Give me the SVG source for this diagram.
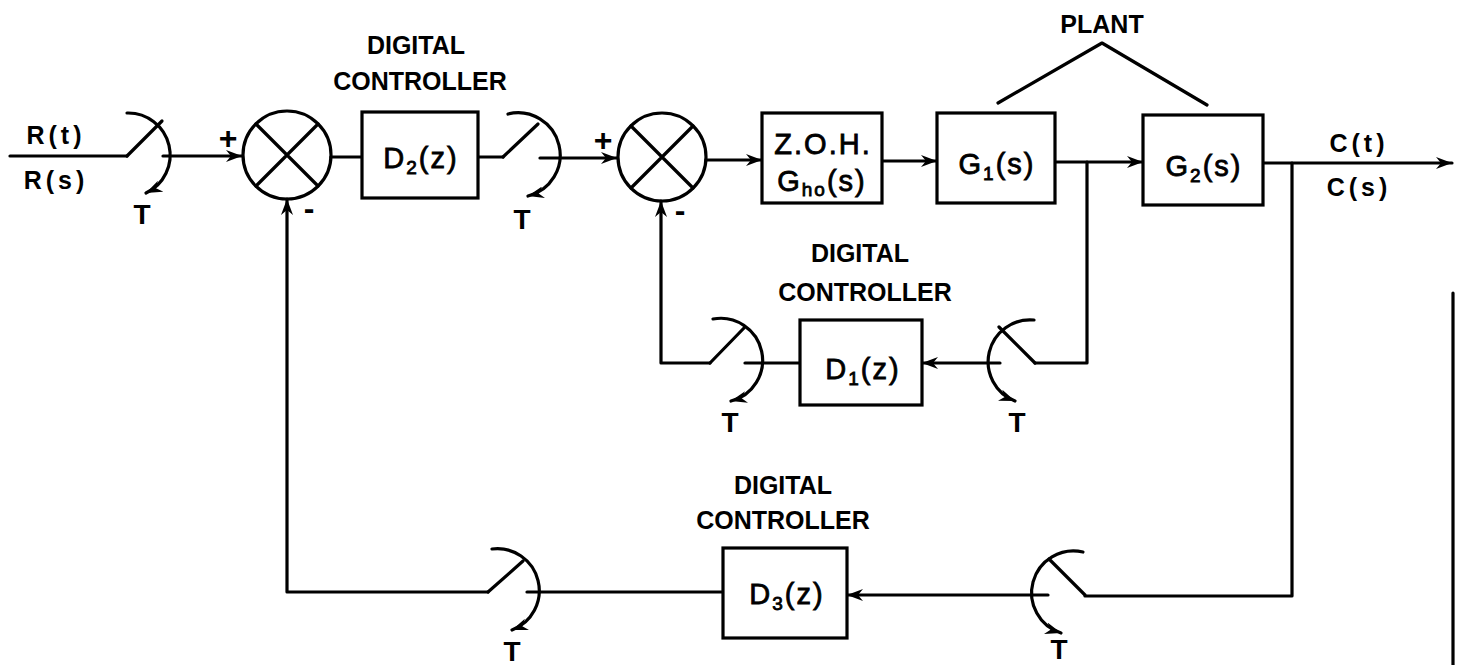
<svg xmlns="http://www.w3.org/2000/svg" width="1457" height="665" viewBox="0 0 1457 665">
<style>
.w{fill:none;stroke:#000;stroke-width:3.2;stroke-linecap:round;stroke-linejoin:round}
.bx{fill:#fff;stroke:#000;stroke-width:3.2}
.lb{font-family:"Liberation Sans",Arial,sans-serif;font-weight:bold;font-size:25px;fill:#000;stroke:none;text-anchor:middle}
.t{font-size:28px}
.pm{font-size:32px}
.bt{font-family:"Liberation Sans",Arial,sans-serif;font-size:29px;fill:#000;stroke:#000;stroke-width:0.8;text-anchor:middle;letter-spacing:2px}
.sub{font-size:19px}
</style>
<defs>
<marker id="ah" markerUnits="userSpaceOnUse" markerWidth="18" markerHeight="12" refX="16" refY="6" orient="auto">
<path d="M0,0 L16,6 L0,12 L5,6 z" fill="#000"/>
</marker>
</defs>
<rect width="1457" height="665" fill="#fff"/>

<g id="connectors" class="w">
<path d="M10,156 H127"/>
<path d="M163,156 H242" marker-end="url(#ah)"/>
<path d="M331,157 H362"/>
<path d="M478,157 H503"/>
<path d="M540,158 H617" marker-end="url(#ah)"/>
<path d="M706,160 H762" marker-end="url(#ah)"/>
<path d="M882,161 H937" marker-end="url(#ah)"/>
<path d="M1055,162 H1143" marker-end="url(#ah)"/>
<path d="M1263,163 H1452" marker-end="url(#ah)"/>
<path d="M1087,162 V363 H1035"/>
<path d="M1000,363 H922" marker-end="url(#ah)"/>
<path d="M800,363 H745"/>
<path d="M710,363 H661 V201" marker-end="url(#ah)"/>
<path d="M1292,163 V596 H1085"/>
<path d="M1048,595 H847" marker-end="url(#ah)"/>
<path d="M723,592 H527"/>
<path d="M488,592 H287 V199" marker-end="url(#ah)"/>
</g>

<g id="input-label">
<text class="lb" x="56" y="144" letter-spacing="4">R(t)</text>
<text class="lb" x="56" y="189" letter-spacing="4">R(s)</text>
</g>

<g id="sampler1" class="w">
<path d="M127,156 L162,121"/>
<path d="M127,113 A42,42 0 0 1 146,193" marker-end="url(#ah)"/>
<text class="lb t" x="142" y="224">T</text>
</g>

<g id="sum1">
<circle class="w" cx="287" cy="155" r="44"/>
<path class="w" d="M256,124 L318,186 M318,124 L256,186"/>
<text class="lb pm" x="228" y="149">+</text>
<text class="lb pm" x="309" y="219">-</text>
</g>

<g id="d2">
<rect class="bx" x="362" y="112" width="116" height="86"/>
<text class="bt" x="421" y="168">D<tspan class="sub" dy="6">2</tspan><tspan dy="-6">(z)</tspan></text>
<text class="lb" x="416" y="54">DIGITAL</text>
<text class="lb" x="420" y="90">CONTROLLER</text>
</g>

<g id="sampler2" class="w">
<path d="M503,157 L538,124"/>
<path d="M508,114 A42,42 0 0 1 528,196" marker-end="url(#ah)"/>
<text class="lb t" x="522" y="229">T</text>
</g>

<g id="sum2">
<circle class="w" cx="662" cy="157" r="44"/>
<path class="w" d="M631,126 L693,188 M693,126 L631,188"/>
<text class="lb pm" x="603" y="151">+</text>
<text class="lb pm" x="680" y="221">-</text>
</g>

<g id="zoh">
<rect class="bx" x="762" y="113" width="120" height="90"/>
<text class="bt" x="823" y="154">Z.O.H.</text>
<text class="bt" x="822" y="191">G<tspan class="sub" dy="5">ho</tspan><tspan dy="-5">(s)</tspan></text>
</g>

<g id="g1">
<rect class="bx" x="937" y="113" width="118" height="90"/>
<text class="bt" x="997" y="174">G<tspan class="sub" dy="6">1</tspan><tspan dy="-6">(s)</tspan></text>
</g>

<g id="g2">
<rect class="bx" x="1143" y="115" width="120" height="90"/>
<text class="bt" x="1204" y="176">G<tspan class="sub" dy="6">2</tspan><tspan dy="-6">(s)</tspan></text>
</g>

<g id="plant">
<path class="w" d="M998,103 L1102,43 L1207,105"/>
<text class="lb" x="1102" y="33">PLANT</text>
</g>

<g id="output-label">
<text class="lb" x="1359" y="152" letter-spacing="4">C(t)</text>
<text class="lb" x="1359" y="196" letter-spacing="4">C(s)</text>
</g>

<g id="d1">
<rect class="bx" x="800" y="320" width="122" height="85"/>
<text class="bt" x="863" y="379">D<tspan class="sub" dy="6">1</tspan><tspan dy="-6">(z)</tspan></text>
<text class="lb" x="860" y="262">DIGITAL</text>
<text class="lb" x="865" y="301">CONTROLLER</text>
</g>

<g id="sampler4" class="w">
<path d="M710,363 L744,328"/>
<path d="M713,319 A42,42 0 0 1 731,401" marker-end="url(#ah)"/>
<text class="lb t" x="730" y="432">T</text>
</g>

<g id="sampler5" class="w">
<path d="M1035,363 L999,327"/>
<path d="M1034,320 A42,42 0 0 0 1015,401" marker-end="url(#ah)"/>
<text class="lb t" x="1017" y="432">T</text>
</g>

<g id="d3">
<rect class="bx" x="723" y="548" width="124" height="90"/>
<text class="bt" x="787" y="604">D<tspan class="sub" dy="6">3</tspan><tspan dy="-6">(z)</tspan></text>
<text class="lb" x="783" y="494">DIGITAL</text>
<text class="lb" x="783" y="529">CONTROLLER</text>
</g>

<g id="sampler3" class="w">
<path d="M488,592 L523,561"/>
<path d="M492,549 A42,42 0 0 1 512,630" marker-end="url(#ah)"/>
<text class="lb t" x="512" y="661">T</text>
</g>

<g id="sampler6" class="w">
<path d="M1085,595 L1049,559"/>
<path d="M1083,552 A42,42 0 0 0 1061,633" marker-end="url(#ah)"/>
<text class="lb t" x="1059" y="659">T</text>
</g>

<g id="page-edge">
<path class="w" d="M1453,293 V665"/>
</g>
</svg>
